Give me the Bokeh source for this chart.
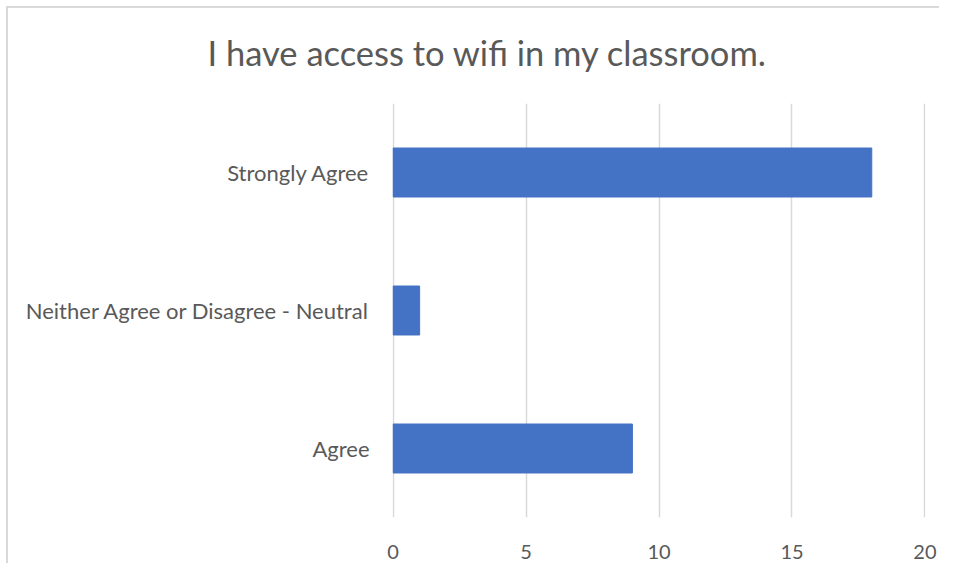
from bokeh.plotting import figure
from bokeh.models import FactorRange, Range1d, FixedTicker
from bokeh.embed import file_html
from bokeh.resources import INLINE

title_text = "I have access to wifi in my classroom."
categories = ["Agree", "Neither Agree or Disagree - Neutral", "Strongly Agree"]
counts = [9, 1, 18]
x_ticks = [0, 5, 10, 15, 20]

TXT = "#595959"
FONT = "Lato"
GRID = "#d9d9d9"

p = figure(
    width=939, height=563,
    y_range=FactorRange(factors=categories),
    x_range=Range1d(-0.02, 20.02),
    output_backend="svg", toolbar_location=None,
    min_border_left=392, min_border_right=14,
    min_border_top=103, min_border_bottom=46,
    title=title_text,
)
p.border_fill_color = None
p.background_fill_color = "white"
p.styles = {
    "background": (
        f"linear-gradient({GRID},{GRID}) 6px 6px / 100% 2px no-repeat, "
        f"linear-gradient({GRID},{GRID}) 6px 6px / 2px 100% no-repeat, white"
    ),
    "overflow": "hidden",
}
p.outline_line_color = None

p.title.align = "left"
p.title.vertical_align = "middle"
p.title.offset = -185
p.title.standoff = 60
p.title.text_font = FONT
p.title.text_font_size = "34.5px"
p.title.text_font_style = "normal"
p.title.text_color = TXT

p.hbar(y=categories, right=counts, left=0, height=0.355, color="#4472C4")

p.xaxis.ticker = FixedTicker(ticks=x_ticks)
p.xgrid.ticker = FixedTicker(ticks=x_ticks)
p.xgrid.grid_line_color = GRID
p.xgrid.grid_line_width = 1.5
p.ygrid.grid_line_color = None

for ax in (p.xaxis, p.yaxis):
    ax.axis_line_color = None
    ax.major_tick_line_color = None
    ax.minor_tick_line_color = None
    ax.major_label_text_color = TXT
    ax.major_label_text_font = FONT

p.xaxis.major_label_text_font_size = "20px"
p.yaxis.major_label_text_font_size = "22px"
p.xaxis.major_label_standoff = 21
p.yaxis.major_label_standoff = 17

open("out.html", "w").write(file_html(p, INLINE))
